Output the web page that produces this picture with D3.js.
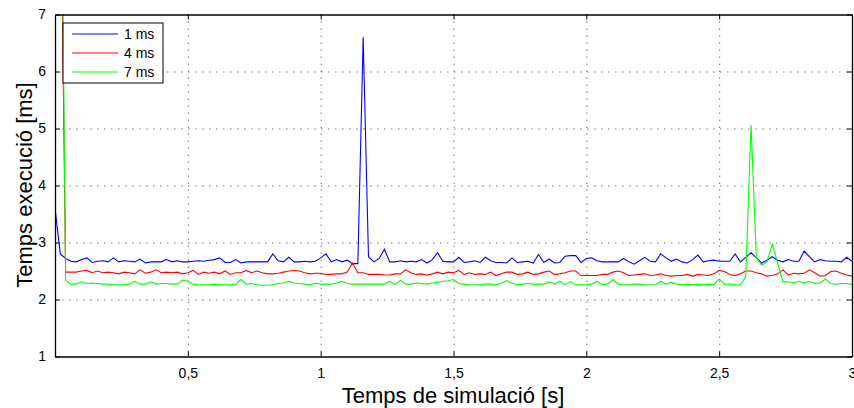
<!DOCTYPE html>
<html>
<head>
<meta charset="utf-8">
<script src="https://cdn.jsdelivr.net/npm/d3@7"></script>
<style>
  body { margin: 0; background: #fff; }
  svg { display: block; font-family: 'Liberation Sans', Arial, sans-serif; }
</style>
</head>
<body>
<div id="chart"></div>
<script>
// sample time step 0.02 s, 151 samples from 0 to 3 s
const step = 0.02

const seriesNames = ['1 ms', '4 ms', '7 ms']
const seriesColors = ['#0000ff', '#ff0000', '#00ff00']

const ms1 = [3.60, 2.80, 2.72, 2.67, 2.66, 2.70, 2.73, 2.65, 2.67, 2.68,
  2.66, 2.73, 2.66, 2.68, 2.67, 2.66, 2.71, 2.64, 2.66, 2.66,
  2.66, 2.70, 2.66, 2.68, 2.66, 2.66, 2.67, 2.68, 2.67, 2.69,
  2.70, 2.73, 2.65, 2.65, 2.70, 2.64, 2.66, 2.66, 2.66, 2.66,
  2.66, 2.80, 2.68, 2.66, 2.74, 2.66, 2.66, 2.67, 2.66, 2.67,
  2.73, 2.80, 2.66, 2.70, 2.66, 2.69, 2.63, 2.63, 6.60, 2.75,
  2.66, 2.72, 2.88, 2.66, 2.66, 2.68, 2.66, 2.67, 2.66, 2.70,
  2.64, 2.70, 2.82, 2.67, 2.66, 2.66, 2.74, 2.65, 2.66, 2.68,
  2.65, 2.74, 2.68, 2.65, 2.65, 2.64, 2.73, 2.65, 2.66, 2.67,
  2.64, 2.79, 2.65, 2.71, 2.64, 2.65, 2.76, 2.77, 2.77, 2.65,
  2.72, 2.73, 2.68, 2.66, 2.66, 2.66, 2.66, 2.72, 2.66, 2.62,
  2.68, 2.74, 2.67, 2.66, 2.80, 2.73, 2.67, 2.71, 2.66, 2.64,
  2.70, 2.78, 2.66, 2.68, 2.69, 2.67, 2.67, 2.67, 2.80, 2.66,
  2.74, 2.82, 2.73, 2.64, 2.69, 2.75, 2.69, 2.66, 2.70, 2.67,
  2.67, 2.85, 2.75, 2.66, 2.70, 2.68, 2.67, 2.67, 2.66, 2.74,
  2.67]

const ms4 = [12.0, 10.0, 2.48, 2.48, 2.48, 2.50, 2.51, 2.47, 2.50, 2.47,
  2.48, 2.47, 2.45, 2.48, 2.47, 2.45, 2.52, 2.46, 2.48, 2.52,
  2.47, 2.48, 2.47, 2.48, 2.45, 2.47, 2.51, 2.44, 2.48, 2.46,
  2.48, 2.45, 2.50, 2.44, 2.47, 2.47, 2.51, 2.47, 2.50, 2.47,
  2.45, 2.45, 2.46, 2.48, 2.50, 2.51, 2.50, 2.47, 2.45, 2.46,
  2.46, 2.44, 2.44, 2.45, 2.45, 2.48, 2.64, 2.47, 2.47, 2.44,
  2.44, 2.44, 2.43, 2.43, 2.45, 2.45, 2.52, 2.47, 2.44, 2.45,
  2.43, 2.45, 2.48, 2.45, 2.48, 2.47, 2.51, 2.44, 2.47, 2.44,
  2.45, 2.44, 2.48, 2.42, 2.45, 2.48, 2.48, 2.44, 2.45, 2.48,
  2.44, 2.45, 2.48, 2.50, 2.44, 2.45, 2.47, 2.50, 2.50, 2.42,
  2.42, 2.42, 2.42, 2.44, 2.44, 2.48, 2.50, 2.47, 2.42, 2.43,
  2.44, 2.45, 2.42, 2.43, 2.45, 2.42, 2.41, 2.42, 2.42, 2.44,
  2.41, 2.44, 2.43, 2.42, 2.45, 2.51, 2.49, 2.44, 2.42, 2.45,
  2.50, 2.50, 2.47, 2.45, 2.41, 2.42, 2.45, 2.52, 2.43, 2.46,
  2.45, 2.46, 2.52, 2.47, 2.41, 2.42, 2.49, 2.50, 2.46, 2.43,
  2.41]

const ms7 = [14.0, 12.0, 2.34, 2.27, 2.27, 2.31, 2.28, 2.29, 2.28, 2.27,
  2.27, 2.26, 2.26, 2.26, 2.27, 2.32, 2.27, 2.27, 2.31, 2.27,
  2.28, 2.28, 2.27, 2.27, 2.34, 2.32, 2.27, 2.26, 2.26, 2.26,
  2.27, 2.26, 2.26, 2.26, 2.27, 2.35, 2.27, 2.28, 2.26, 2.25,
  2.25, 2.26, 2.28, 2.29, 2.32, 2.29, 2.28, 2.27, 2.26, 2.29,
  2.27, 2.27, 2.27, 2.29, 2.32, 2.28, 2.27, 2.27, 2.27, 2.27,
  2.27, 2.27, 2.27, 2.32, 2.26, 2.34, 2.27, 2.27, 2.29, 2.28,
  2.27, 2.29, 2.30, 2.32, 2.33, 2.35, 2.28, 2.27, 2.26, 2.26,
  2.26, 2.27, 2.27, 2.26, 2.28, 2.33, 2.29, 2.26, 2.27, 2.28,
  2.27, 2.27, 2.27, 2.31, 2.27, 2.32, 2.26, 2.31, 2.26, 2.26,
  2.26, 2.27, 2.32, 2.26, 2.27, 2.35, 2.27, 2.26, 2.26, 2.27,
  2.27, 2.26, 2.26, 2.26, 2.32, 2.27, 2.30, 2.27, 2.26, 2.27,
  2.26, 2.27, 2.26, 2.27, 2.26, 2.36, 2.27, 2.27, 2.26, 2.26,
  2.40, 5.06, 2.73, 2.60, 2.66, 2.97, 2.64, 2.31, 2.31, 2.29,
  2.32, 2.29, 2.32, 2.28, 2.29, 2.36, 2.28, 2.27, 2.28, 2.28,
  2.26]

const xTicks = [0.5, 1, 1.5, 2, 2.5, 3]
const yTicks = [1, 2, 3, 4, 5, 6, 7]

const W = 854
const H = 408
const margin = { top: 14.5, right: 2, bottom: 51.5, left: 55 }
const width = W - margin.left - margin.right
const height = H - margin.top - margin.bottom

const svg = d3.select('#chart')
  .append('svg')
  .attr('width', W)
  .attr('height', H)

const g = svg.append('g').attr('transform', `translate(${margin.left},${margin.top})`)

const x = d3.scaleLinear().domain([0, 3]).range([0, width])
const y = d3.scaleLinear().domain([1, 7]).range([height, 0])

const fmt = (d) => String(d).replace('.', ',')

// grid
g.append('g')
  .selectAll('line')
  .data(xTicks.filter((d) => d < 3))
  .enter()
  .append('line')
  .attr('x1', (d) => x(d) + 0.5)
  .attr('x2', (d) => x(d) + 0.5)
  .attr('y1', 0)
  .attr('y2', height)
  .attr('stroke', '#777')
  .attr('stroke-dasharray', '1.5,5.5')

g.append('g')
  .selectAll('line')
  .data(yTicks.filter((d) => d > 1 && d < 7))
  .enter()
  .append('line')
  .attr('x1', 0)
  .attr('x2', width)
  .attr('y1', (d) => y(d) + 0.5)
  .attr('y2', (d) => y(d) + 0.5)
  .attr('stroke', '#777')
  .attr('stroke-dasharray', '1.5,5.5')

// lines
svg.append('defs').append('clipPath').attr('id', 'clip')
  .append('rect').attr('width', width).attr('height', height)

const line = d3.line()
  .x((d, i) => x(i * step))
  .y((d) => y(d))

const series = [ms1, ms4, ms7]

g.append('g')
  .attr('clip-path', 'url(#clip)')
  .selectAll('path')
  .data(series)
  .enter()
  .append('path')
  .attr('d', line)
  .attr('fill', 'none')
  .attr('stroke', (d, i) => seriesColors[i])
  .attr('stroke-width', 1.1)

// axes (box style, ticks inward)
const xAxis = g.append('g')
  .attr('transform', `translate(0,${height})`)
  .call(d3.axisBottom(x).tickValues(xTicks).tickFormat(fmt).tickSizeInner(-5).tickSizeOuter(0).tickPadding(12))
const xAxisTop = g.append('g')
  .call(d3.axisTop(x).tickValues(xTicks).tickFormat('').tickSizeInner(-5).tickSizeOuter(0))
const yAxis = g.append('g')
  .call(d3.axisLeft(y).tickValues(yTicks).tickFormat(fmt).tickSizeInner(-5).tickSizeOuter(0).tickPadding(9))
const yAxisRight = g.append('g')
  .attr('transform', `translate(${width},0)`)
  .call(d3.axisRight(y).tickValues(yTicks).tickFormat('').tickSizeInner(-5).tickSizeOuter(0))

;[xAxis, xAxisTop, yAxis, yAxisRight].forEach((a) => {
  a.select('.domain').attr('stroke', '#000').attr('stroke-width', 1.3)
  a.selectAll('.tick line').attr('stroke', '#000')
  a.selectAll('.tick text').attr('font-size', 14).attr('fill', '#000')
    .style('font-family', "'Liberation Sans', Arial, sans-serif")
})

// axis titles
svg.append('text')
  .attr('x', 453)
  .attr('y', 403)
  .attr('text-anchor', 'middle')
  .attr('font-size', 22)
  .text('Temps de simulació [s]')

svg.append('text')
  .attr('transform', 'translate(32,185) rotate(-90)')
  .attr('text-anchor', 'middle')
  .attr('font-size', 22)
  .text('Temps execució [ms]')

// legend
const legend = svg.append('g').attr('transform', 'translate(63,23)')
legend.append('rect')
  .attr('width', 100)
  .attr('height', 60)
  .attr('fill', '#fff')
  .attr('stroke', '#000')
  .attr('stroke-width', 1)

const item = legend.selectAll('.item')
  .data(seriesNames)
  .enter()
  .append('g')
  .attr('class', 'item')
  .attr('transform', (d, i) => `translate(0,${11 + i * 19})`)

item.append('line')
  .attr('x1', 9)
  .attr('x2', 55)
  .attr('stroke', (d, i) => seriesColors[i])
  .attr('stroke-width', 1.1)

item.append('text')
  .attr('x', 61)
  .attr('y', 5)
  .attr('font-size', 14)
  .text((d) => d)
</script>
</body>
</html>
